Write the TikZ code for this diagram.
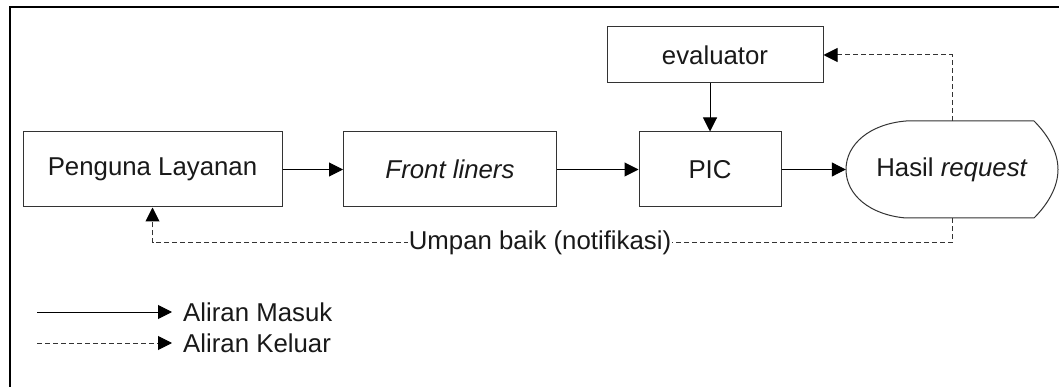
\documentclass[tikz,border=0pt]{standalone}
\usepackage{fontspec}
\setmainfont{Liberation Sans}
\usetikzlibrary{arrows.meta}

\begin{document}
\begin{tikzpicture}[x=1pt,y=-1pt,
  every node/.style={font=\fontsize{25.8}{30}\selectfont, text=black!90, inner sep=0pt},
  procbox/.style={draw=black!80, line width=1pt, minimum height=75pt},
  flow/.style={draw=black, line width=1pt, -{Triangle[length=14pt,width=14pt]}},
  back/.style={draw=black!80, line width=1pt, dash pattern=on 5pt off 3pt,
               -{Triangle[length=14pt,width=14pt,color=black]}},
  legendtext/.style={anchor=west}
]
\useasboundingbox (0,0) rectangle (1059,387);
\fill[white] (0,0) rectangle (1059,387);

% frame
\draw[line width=2.2pt] (10,387) -- (10,7) -- (1059,7);

% process boxes
\node[procbox, minimum width=259pt] (user) at (152.5,169.5) {Penguna Layanan};
\node[procbox, minimum width=213pt] (front) at (450,169.5) {\itshape Front liners};
\node[procbox, minimum width=142pt] (pic) at (710,169.5) {PIC};
\node[procbox, minimum width=216pt, minimum height=56pt] (eval) at (715,55) {evaluator};

% result (display shape)
\node[minimum width=212pt, minimum height=97pt] (hasil) at (952,169.5) {Hasil \textit{request}};
\draw[draw=black!80, line width=1pt]
  (906,121) -- (1034,121)
  .. controls (1048,135) and (1058,152) .. (1058,169.5)
  .. controls (1058,187) and (1048,204) .. (1034,218)
  -- (906,218)
  .. controls (870,215) and (846,195) .. (846,169.5)
  .. controls (846,144) and (870,124) .. (906,121) -- cycle;

% main flow
\draw[flow] (user.east) -- (front.west);
\draw[flow] (front.east) -- (pic.west);
\draw[flow] (pic.east) -- (hasil.west);
\draw[flow] (eval.south -| pic.north) -- (pic.north);

% feedback to evaluator
\coordinate (topturn) at (952,55);
\draw[back] (hasil.north) -- (topturn) -- (eval.east);

% feedback notification to user
\coordinate (botturn) at (952,243);
\coordinate (userturn) at (152.5,243);
\draw[back] (hasil.south) -- (botturn) -- (userturn) -- (user.south);
\node[fill=white, inner xsep=1pt, inner ysep=2pt] (fb) at (540,243) {Umpan baik (notifikasi)};

% legend
\coordinate (l1a) at (37,312);
\coordinate (l1b) at (172,312);
\coordinate (l2a) at (37,343);
\coordinate (l2b) at (172,343);
\draw[flow] (l1a) -- (l1b);
\draw[back] (l2a) -- (l2b);
\node[legendtext] (lin) at (183,312) {Aliran Masuk};
\node[legendtext] (lout) at (183,343) {Aliran Keluar};
\end{tikzpicture}
\end{document}
